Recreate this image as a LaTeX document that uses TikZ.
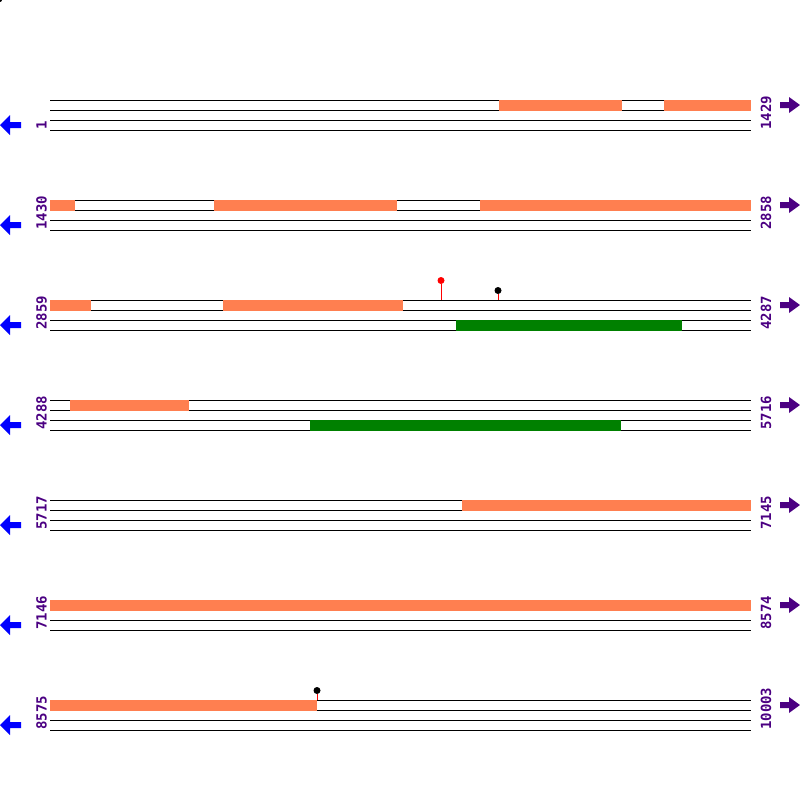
\documentclass[tikz,border=0pt]{standalone}
\usepackage{fontspec}
\newfontfamily\monofont{DejaVu Sans Mono}
\definecolor{coral}{RGB}{255,127,80}
\definecolor{gfeat}{RGB}{0,128,0}
\definecolor{indig}{RGB}{75,0,130}
\begin{document}
\begin{tikzpicture}[x=1pt,y=-1pt,
  seqline/.style={black,line width=1pt},
  orangebar/.style={fill=coral,draw=none},
  greenbar/.style={fill=gfeat,draw=none},
  poslabel/.style={text=indig,font=\monofont\bfseries\fontsize{14}{14}\selectfont,inner sep=0pt,rotate=90,anchor=base west},
  leftarrow/.style={fill=blue,draw=none},
  rightarrow/.style={fill=indig,draw=none},
  stem/.style={red,line width=1pt},
  pin/.style={circle,inner sep=0pt,minimum size=7pt}]
\useasboundingbox (0,0) rectangle (800,800);
\fill[black] (0,0) circle (2);
% rows
\foreach \k in {0,...,6}{
  \pgfmathsetmacro{\yb}{100+100*\k}
  \foreach \d in {0,10,20,30}{
    \draw[seqline] (50,\yb+\d) -- (751,\yb+\d);
  }
  \fill[leftarrow] (0,\yb+25) -- (10,\yb+15) -- (10,\yb+22) -- (21,\yb+22) -- (21,\yb+28) -- (10,\yb+28) -- (10,\yb+35) -- cycle;
  \fill[rightarrow] (800,\yb+5) -- (789,\yb-3) -- (789,\yb+2) -- (780,\yb+2) -- (780,\yb+8) -- (789,\yb+8) -- (789,\yb+13) -- cycle;
}
% orange bars
\fill[orangebar] (499,99.5) rectangle (622,110.5);
\fill[orangebar] (664,99.5) rectangle (751,110.5);
\fill[orangebar] (50,199.5) rectangle (75,210.5);
\fill[orangebar] (214,199.5) rectangle (397,210.5);
\fill[orangebar] (480,199.5) rectangle (751,210.5);
\fill[orangebar] (50,299.5) rectangle (91,310.5);
\fill[orangebar] (223,299.5) rectangle (403,310.5);
\fill[orangebar] (70,399.5) rectangle (189,410.5);
\fill[orangebar] (462,499.5) rectangle (751,510.5);
\fill[orangebar] (50,599.5) rectangle (751,610.5);
\fill[orangebar] (50,699.5) rectangle (317,710.5);
% green bars
\fill[greenbar] (456,319.5) rectangle (682,330.5);
\fill[greenbar] (310,419.5) rectangle (621,430.5);
% pins
\node[pin,fill=red] (p1) at (441,280.5) {};
\coordinate (p1b) at (441,300);
\draw[stem] (p1) -- (p1b);
\node[pin,fill=black] (p2) at (498,290.5) {};
\coordinate (p2b) at (498,300);
\draw[stem] (p2) -- (p2b);
\node[pin,fill=black] (p3) at (317,690.5) {};
\coordinate (p3b) at (317,700);
\draw[stem] (p3) -- (p3b);
% labels
\node[poslabel] (l1) at (46.5,130) {1};
\node[poslabel] (r1) at (771,130) {1429};
\node[poslabel] (l2) at (46.5,230) {1430};
\node[poslabel] (r2) at (771,230) {2858};
\node[poslabel] (l3) at (46.5,330) {2859};
\node[poslabel] (r3) at (771,330) {4287};
\node[poslabel] (l4) at (46.5,430) {4288};
\node[poslabel] (r4) at (771,430) {5716};
\node[poslabel] (l5) at (46.5,530) {5717};
\node[poslabel] (r5) at (771,530) {7145};
\node[poslabel] (l6) at (46.5,630) {7146};
\node[poslabel] (r6) at (771,630) {8574};
\node[poslabel] (l7) at (46.5,730) {8575};
\node[poslabel] (r7) at (771,730) {10003};
\end{tikzpicture}
\end{document}
